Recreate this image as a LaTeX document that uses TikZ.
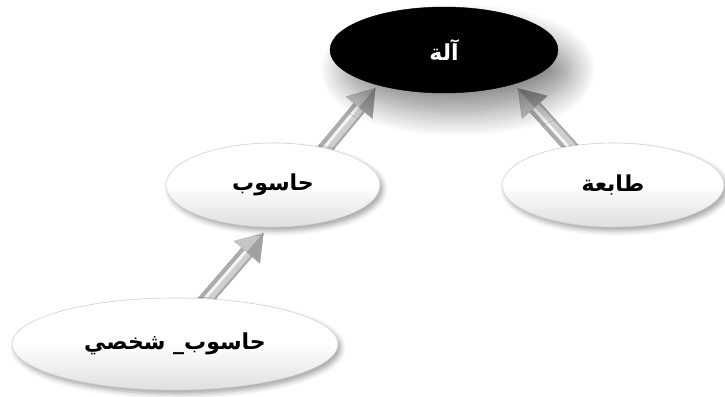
\documentclass[tikz,border=0pt]{standalone}
\usepackage{fontspec}
\newfontfamily\arabicfont[Script=Arabic]{DejaVu Sans}
\TeXXeTstate=1
\usetikzlibrary{shapes.geometric,calc,shadows.blur,backgrounds}

\tikzset{
  bubble/.style={ellipse, inner sep=0pt, draw=gray!35, line width=0.6pt,
    top color=white, bottom color=gray!25, middle color=white,
    blur shadow={shadow xshift=3pt, shadow yshift=-4pt, shadow blur radius=5pt,
                 shadow opacity=35},
    font=\arabicfont\bfseries\fontsize{22}{26}\selectfont},
  rootbubble/.style={ellipse, inner sep=0pt, fill=black, draw=black,
    blur shadow={shadow xshift=14pt, shadow yshift=-20pt, shadow blur radius=24pt,
                 shadow opacity=45, shadow blur steps=20},
    text=white, font=\arabicfont\bfseries\fontsize{22}{26}\selectfont},
  shaftbody/.style={fill=gray!65, draw=gray!72, line width=0.4pt},
  shaftmid/.style={draw=gray!38, line width=8pt},
  shaftshine/.style={draw=gray!8, line width=2.8pt},
  headlight/.style={fill=gray!45, draw=gray!62, line width=0.4pt},
  headdark/.style={fill=gray!74, draw=gray!74, line width=0.4pt}
}

% thick metallic arrow from #1 (tail) to #2 (tip)
\newcommand\metalarrow[2]{%
  \coordinate (mA) at (#1);
  \coordinate (mB) at (#2);
  \coordinate (mC) at ($(mB)!25pt!(mA)$);
  \path[shaftbody] ($(mA)!7pt!90:(mB)$) -- ($(mC)!7pt!90:(mB)$)
     -- ($(mC)!7pt!-90:(mB)$) -- ($(mA)!7pt!-90:(mB)$) -- cycle;
  \path[shaftmid] ($(mA)!1pt!-90:(mB)$) -- ($(mC)!1pt!-90:(mB)$);
  \path[shaftshine] ($(mA)!1.5pt!90:(mB)$) -- ($(mC)!1.5pt!90:(mB)$);
  \path[headlight] (mB) -- ($(mC)!17pt!90:(mB)$) -- (mC) -- cycle;
  \path[headdark] (mB) -- ($(mC)!17pt!-90:(mB)$) -- (mC) -- cycle;}

\begin{document}
\begin{tikzpicture}[x=1pt,y=-1pt]
\useasboundingbox (0,0) rectangle (725,396);

\node[rootbubble, minimum width=228pt, minimum height=86pt] (machine) at (444,50)
  {\beginR آلة\endR};
\node[bubble, minimum width=214pt, minimum height=84pt] (computer) at (273,185)
  {\beginR حاسوب\endR};
\node[bubble, minimum width=222pt, minimum height=84pt] (printer) at (613,185)
  {\beginR طابعة\endR};
\node[bubble, minimum width=326pt, minimum height=92pt] (pc) at (175,344)
  {\beginR حاسوب\textunderscore{} شخصي\endR};

\begin{scope}[on background layer]
  \coordinate (t1) at ($(pc.55)!-6pt!(computer.264)$);
  \coordinate (h1) at ($(computer.264)!8pt!(pc.55)$);
  \coordinate (t2) at ($(computer.35)!-6pt!(machine.208)$);
  \coordinate (h2) at ($(machine.208)!4pt!(computer.35)$);
  \coordinate (t3) at ($(printer.138)!-6pt!(machine.334)$);
  \coordinate (h3) at ($(machine.334)!6pt!(printer.138)$);
  \metalarrow{t1}{h1}
  \metalarrow{t2}{h2}
  \metalarrow{t3}{h3}
\end{scope}
\end{tikzpicture}
\end{document}
